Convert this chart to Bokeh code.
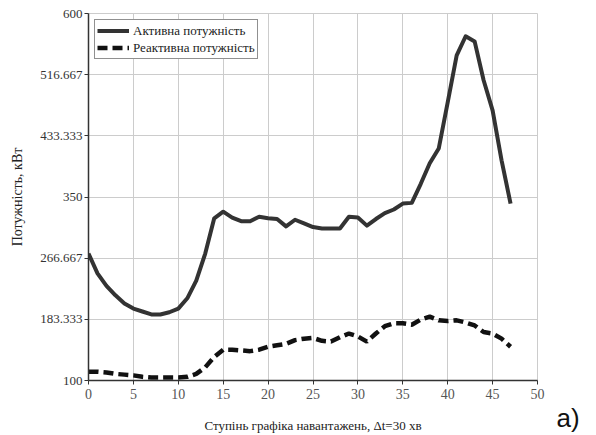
from bokeh.plotting import figure
from bokeh.models import FixedTicker, Range1d, Label, Legend, LegendItem
from bokeh.embed import file_html
from bokeh.resources import INLINE

steps = list(range(48))
active = [273, 246, 229, 216, 205, 198, 194, 190, 190, 193, 198, 212, 236, 273, 321, 330,
          322, 317, 317, 323, 321, 320, 310, 319, 314, 309, 307, 307, 307, 323, 322, 311,
          320, 328, 333, 341, 342, 368, 396, 416, 479, 543, 569, 562, 509, 468, 400, 341]
reactive = [112, 112, 111, 109, 108, 107, 105, 104, 104, 104, 104, 105, 109, 118, 132, 142,
            142, 141, 140, 142, 146, 148, 150, 155, 157, 158, 154, 153, 159, 164, 160, 153,
            164, 174, 178, 178, 176, 183, 187, 182, 181, 182, 179, 175, 166, 164, 157, 146]

y_ticks = [100, 183.333, 266.667, 350, 433.333, 516.667, 600]
y_tick_labels = ["100", "183.333", "266.667", "350", "433.333", "516.667", "600"]
x_ticks = [0, 5, 10, 15, 20, 25, 30, 35, 40, 45, 50]

legend_labels = ["Активна потужність", "Реактивна потужність"]
x_title = "Ступінь графіка навантажень, Δt=30 хв"
y_title = "Потужність, кВт"
panel_label = "a)"

serif = "Liberation Serif"

p = figure(width=596, height=435, output_backend="svg", toolbar_location=None,
           x_range=Range1d(0, 50), y_range=Range1d(100, 600),
           min_border_left=88, min_border_right=59, min_border_top=13, min_border_bottom=55)

p.background_fill_color = "white"
p.border_fill_color = "white"
p.outline_line_color = "#cccccc"

p.xgrid.grid_line_color = "#cccccc"
p.ygrid.grid_line_color = "#cccccc"

p.xaxis.ticker = FixedTicker(ticks=x_ticks)
p.yaxis.ticker = FixedTicker(ticks=y_ticks)
p.xgrid.ticker = FixedTicker(ticks=x_ticks)
p.ygrid.ticker = FixedTicker(ticks=y_ticks)
p.yaxis.major_label_overrides = {t: l for t, l in zip(y_ticks, y_tick_labels)}

for ax in (p.xaxis[0], p.yaxis[0]):
    ax.axis_line_color = "#333333"
    ax.axis_line_width = 1.5
    ax.major_tick_line_color = "#333333"
    ax.minor_tick_line_color = None
    ax.major_tick_in = 0

p.xaxis.major_tick_out = 4
p.yaxis.major_tick_out = 4
p.xaxis.major_label_text_font = "Liberation Sans Narrow"
p.xaxis.major_label_text_font_size = "14px"
p.xaxis.major_label_text_color = "#555555"
p.xaxis.major_label_standoff = 4
p.yaxis.major_label_text_font = serif
p.yaxis.major_label_text_font_size = "13px"
p.yaxis.major_label_text_color = "#333333"
p.yaxis.major_label_standoff = 2

p.xaxis.axis_label = x_title
p.xaxis.axis_label_text_font = serif
p.xaxis.axis_label_text_font_size = "13px"
p.xaxis.axis_label_text_font_style = "normal"
p.xaxis.axis_label_text_color = "#222222"
p.xaxis.axis_label_standoff = 16

p.yaxis.axis_label = y_title
p.yaxis.axis_label_text_font = serif
p.yaxis.axis_label_text_font_size = "14px"
p.yaxis.axis_label_text_font_style = "normal"
p.yaxis.axis_label_text_color = "#222222"
p.yaxis.axis_label_standoff = 12

r1 = p.line(steps, active, line_color="#333333", line_width=4, line_join="round")
r2 = p.line(steps, reactive, line_color="#111111", line_width=4.5, line_dash="10 5")

legend = Legend(items=[LegendItem(label=legend_labels[0], renderers=[r1]),
                       LegendItem(label=legend_labels[1], renderers=[r2])],
                location="top_left", margin=6, padding=2, spacing=0,
                glyph_width=32, glyph_height=17, label_height=17, label_standoff=4,
                label_text_font=serif, label_text_font_size="13px", label_text_color="#222222",
                border_line_color="#222222", border_line_width=1,
                background_fill_color="white", background_fill_alpha=1)
p.add_layout(legend)

lab = Label(x=556, y=432, x_units="canvas", y_units="canvas", text=panel_label,
            text_font="Liberation Sans", text_font_size="26px", text_color="#111111",
            text_baseline="bottom")
p.add_layout(lab, "right")

open("out.html", "w").write(file_html(p, INLINE))
